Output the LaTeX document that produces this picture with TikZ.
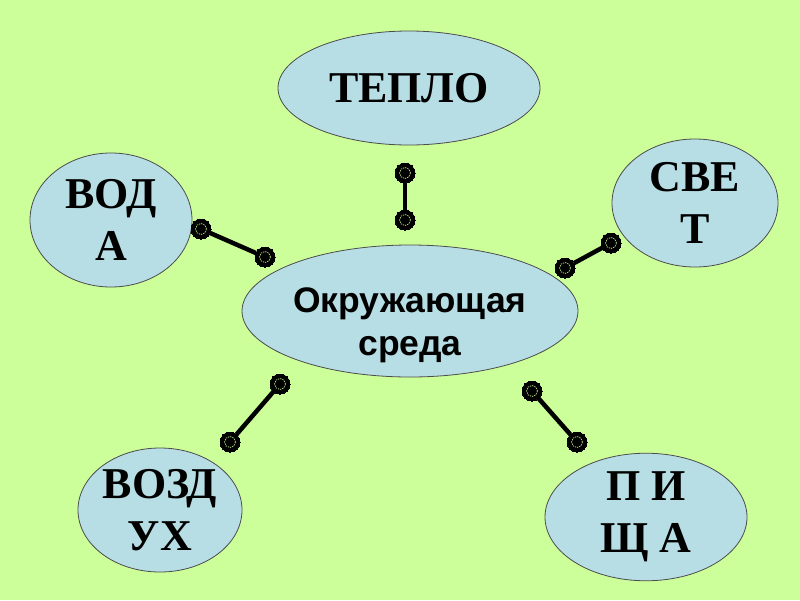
\documentclass[tikz,border=0pt]{standalone}
\usepackage{fontspec}
\setmainfont{Liberation Serif}
\newfontfamily\arialfont{Liberation Sans}
\usetikzlibrary{shapes.geometric}
\definecolor{bggreen}{RGB}{204,255,153}
\definecolor{ellblue}{RGB}{183,222,228}
\definecolor{ringgreen}{RGB}{170,210,120}
\tikzset{
  bubble/.style={ellipse, draw=black!70, line width=0.8pt, fill=ellblue, inner sep=0pt, align=center},
  serifbig/.style={font=\fontsize{44}{52}\selectfont\bfseries},
  sansmid/.style={font=\arialfont\bfseries\fontsize{35.5}{43}\selectfont},
  knob/.style={circle, fill=black, minimum size=20pt, inner sep=0pt, draw=black, line width=0pt},
  ring/.style={circle, draw=ringgreen, dash pattern=on 1.3pt off 1pt, line width=0.8pt, minimum size=11pt, inner sep=0pt},
  link/.style={line width=4.5pt, black}
}
\begin{document}
\begin{tikzpicture}[x=1pt,y=-1pt]
\fill[bggreen] (0,0) rectangle (800,600);
\useasboundingbox (0,0) rectangle (800,600);

% ellipses
\node[bubble, minimum width=336pt, minimum height=132pt,
  label={[sansmid, align=center, yshift=-14pt]center:Окружающая\\среда}] (env) at (410,311) {};
\node[bubble, minimum width=262pt, minimum height=114pt, serifbig] (heat) at (409,88) {ТЕПЛО};
\node[bubble, minimum width=162pt, minimum height=134pt, serifbig] (water) at (111,220) {ВОД\\А};
\node[bubble, minimum width=166pt, minimum height=128pt, serifbig] (light) at (695,203) {СВЕ\\Т};
\node[bubble, minimum width=164pt, minimum height=124pt, serifbig] (air) at (160,510) {ВОЗД\\УХ};
\node[bubble, minimum width=202pt, minimum height=126pt, serifbig] (food) at (646,517) {П И\\Щ А};

% knobs
\node[knob] (w1) at (201,229) {};
\node[knob] (w2) at (265,257) {};
\node[knob] (h1) at (405,173) {};
\node[knob] (h2) at (405,220) {};
\node[knob] (l1) at (611,243) {};
\node[knob] (l2) at (565,268) {};
\node[knob] (a1) at (280,384) {};
\node[knob] (a2) at (230,442) {};
\node[knob] (f1) at (532,391) {};
\node[knob] (f2) at (577,442) {};

% links
\draw[link] (w1) -- (w2);
\draw[link] (h1) -- (h2);
\draw[link] (l1) -- (l2);
\draw[link] (a1) -- (a2);
\draw[link] (f1) -- (f2);

% rings
\foreach \k in {w1,w2,h1,h2,l1,l2,a1,a2,f1,f2}
  \node[ring] at (\k) {};
\end{tikzpicture}
\end{document}
